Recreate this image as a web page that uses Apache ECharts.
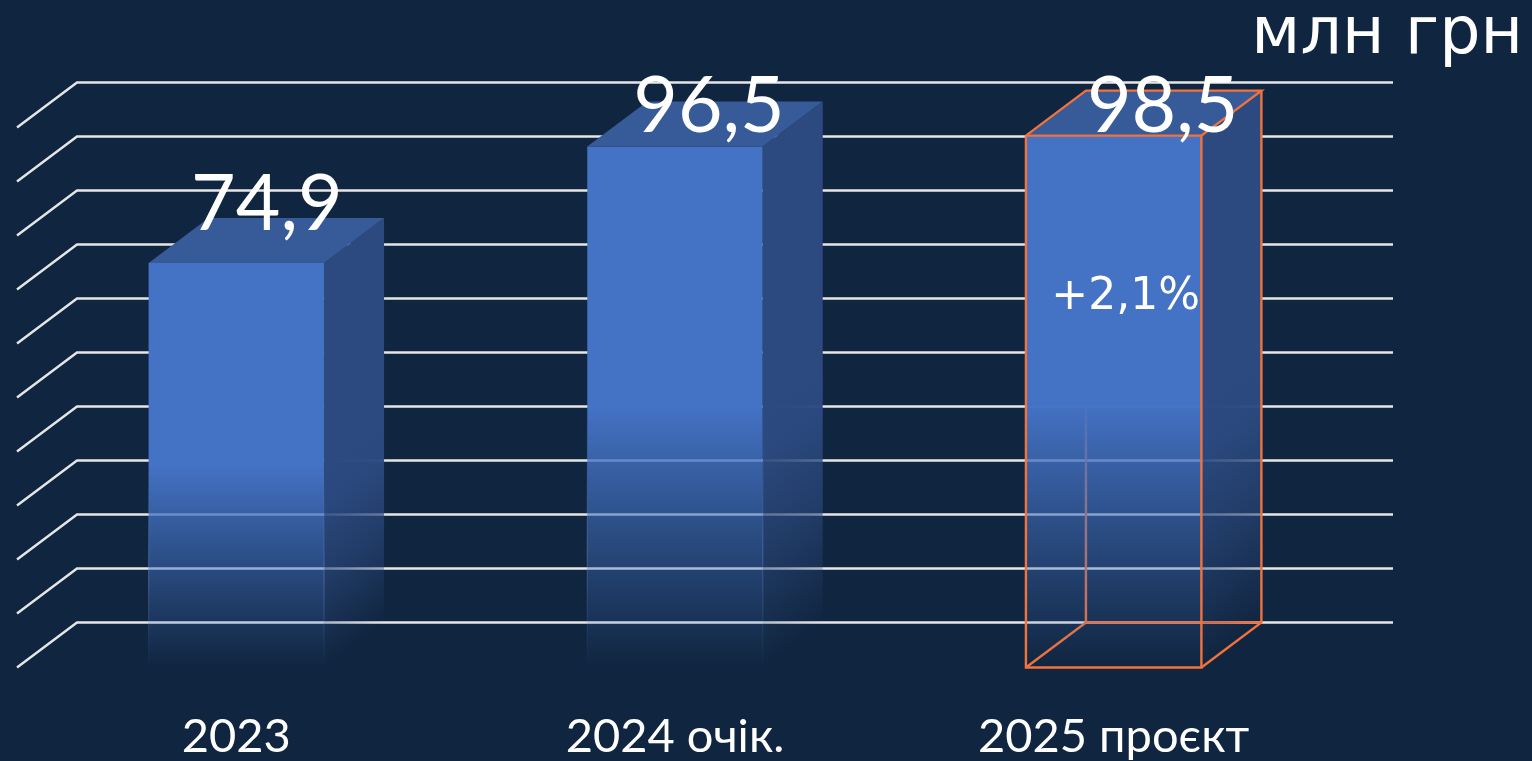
<!DOCTYPE html>
<html><head><meta charset="utf-8">
<style>html,body{margin:0;padding:0;background:#10253f;overflow:hidden}#c{width:1532px;height:761px}</style>
<script src="https://cdn.jsdelivr.net/npm/echarts@6/dist/echarts.min.js"></script>
</head><body><div id="c"></div>
<script>
const categories = ['2023', '2024 очік.', '2025 проєкт'];
const values = [74.9, 96.5, 98.5];
const valueLabels = ['74,9', '96,5', '98,5'];
const gridTicks = [0, 10, 20, 30, 40, 50, 60, 70, 80, 90, 100];
const unitLabel = 'млн грн';
const changeLabel = '+2,1%';
const outlinedCategory = '2025 проєкт';

const DX = 60, DY = 45;
const LABEL_OFFSET = [[30.5, -58], [34, -39], [49, -28]];
const FONT = 'Lato, "Open Sans", sans-serif';
const ORANGE = '#F2723C';
const chart = echarts.init(document.getElementById('c'));

function frontFill() {
  return new echarts.graphic.LinearGradient(0, 0, 0, 1, [
    {offset: 0, color: 'rgba(68,114,196,1)'},
    {offset: 0.5, color: 'rgba(68,114,196,1)'},
    {offset: 1, color: 'rgba(68,114,196,0)'}
  ]);
}
function sideFill(x, y, x2, y2) {
  return new echarts.graphic.LinearGradient(x, y, x2, y2, [
    {offset: 0, color: 'rgba(44,74,128,1)'},
    {offset: 0.18, color: 'rgba(44,74,128,0.97)'},
    {offset: 0.55, color: 'rgba(44,74,128,0.62)'},
    {offset: 1, color: 'rgba(44,74,128,0)'}
  ], true);
}
function edgeStroke(x, mid, yb) {
  return new echarts.graphic.LinearGradient(x, mid, x, yb, [
    {offset: 0, color: 'rgba(120,155,225,0)'},
    {offset: 0.55, color: 'rgba(120,155,225,0.35)'},
    {offset: 1, color: 'rgba(120,155,225,0)'}
  ], true);
}
function line(pts, color, w) {
  return {type: 'polyline', shape: {points: pts}, silent: true,
    style: {stroke: color, lineWidth: w, fill: null, lineJoin: 'miter'}};
}
function renderGrid(params, api) {
  const cs = params.coordSys;
  const y = api.coord([0, api.value(0)])[1];
  return line([[cs.x, y], [cs.x + DX, y - DY], [cs.x + cs.width + DX, y - DY]], '#E6E6E6', 2.4);
}
function renderBar(params, api) {
  const idx = api.value(0), val = api.value(1);
  const band = api.size([1, 0])[0], w = band * 0.4;
  const c = api.coord([idx, val]), base = api.coord([idx, 0]);
  const x0 = c[0] - w / 2, x1 = x0 + w, yt = c[1], yb = base[1];
  const half = (yb - yt) / 2, mid = yt + half;
  const L = 0.8 * half;
  const children = [];
  const outlined = categories[idx] === outlinedCategory;
  if (outlined) {
    children.push(line([[x0 + DX, yt - DY], [x0 + DX, yb - DY]], ORANGE, 2.4));
    children.push(line([[x0, yb], [x0 + DX, yb - DY], [x1 + DX, yb - DY]], ORANGE, 2.4));
  }
  children.push({type: 'polygon', silent: true,
    shape: {points: [[x0, yt], [x1, yt], [x1, yb], [x0, yb]]},
    style: {fill: frontFill()}});
  children.push({type: 'polygon', silent: true,
    shape: {points: [[x1, yt], [x1 + DX, yt - DY], [x1 + DX, yb - DY], [x1, yb]]},
    style: {fill: sideFill(x1, mid, x1 + 0.6 * L, mid + 0.8 * L)}});
  children.push({type: 'polygon', silent: true,
    shape: {points: [[x0, yt], [x1, yt], [x1 + DX, yt - DY], [x0 + DX, yt - DY]]},
    style: {fill: '#375A98'}});
  if (outlined) {
    children.push(line([[x0, yt], [x1, yt], [x1, yb], [x0, yb], [x0, yt]], ORANGE, 2.4));
    children.push(line([[x0, yt], [x0 + DX, yt - DY], [x1 + DX, yt - DY], [x1, yt]], ORANGE, 2.4));
    children.push(line([[x1 + DX, yt - DY], [x1 + DX, yb - DY], [x1, yb]], ORANGE, 2.4));
    children.push({type: 'text', silent: true,
      style: {text: changeLabel, x: x0 + w / 2 + 12, y: 298, align: 'center', verticalAlign: 'middle',
        fill: '#fff', font: '44px "DejaVu Sans", sans-serif'}});
  } else {
    children.push(line([[x0, mid], [x0, yb]], edgeStroke(x0, mid, yb), 1.2));
    children.push(line([[x1, mid], [x1, yb]], edgeStroke(x1, mid, yb), 1.2));
  }
  const off = LABEL_OFFSET[idx];
  children.push({type: 'text', silent: true,
    style: {text: valueLabels[idx], x: c[0] + off[0], y: yt + off[1], align: 'center', verticalAlign: 'middle',
      fill: '#fff', font: '77px ' + FONT}});
  return {type: 'group', children};
}
chart.setOption({
  backgroundColor: '#10253f',
  animation: false,
  title: {text: unitLabel, right: 4, top: -1,
    textStyle: {color: '#fff', fontSize: 65, fontWeight: 'normal', fontFamily: '"DejaVu Sans", sans-serif'}},
  grid: {left: 17, right: 199, top: 127.5, bottom: 93.5},
  xAxis: {type: 'category', data: categories, axisLine: {show: false}, axisTick: {show: false}, splitLine: {show: false},
    axisLabel: {color: '#fff', fontSize: 47, fontFamily: FONT, margin: 46}},
  yAxis: {type: 'value', min: 0, max: 100, interval: 10, show: false},
  series: [
    {type: 'custom', z: 1, coordinateSystem: 'cartesian2d', clip: false, renderItem: renderGrid,
     data: gridTicks.map(t => [t]), encode: {y: 0}, silent: true},
    {type: 'custom', z: 2, coordinateSystem: 'cartesian2d', clip: false, renderItem: renderBar,
     data: values.map((v, i) => [i, v]), encode: {x: 0, y: 1}, silent: true}
  ]
});
</script></body></html>
